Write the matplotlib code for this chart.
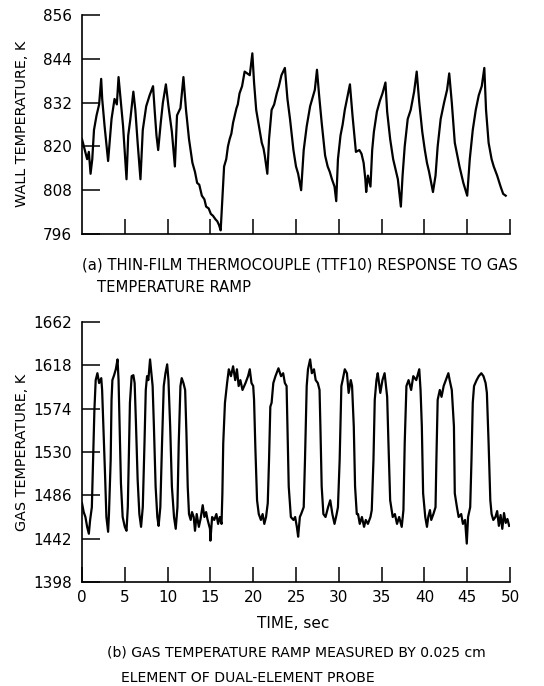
import matplotlib.pyplot as plt

# (a) wall temperature from thin-film thermocouple TTF10
wall_time = [
    0.0, 0.33, 0.6, 0.8, 1.0, 1.2, 1.4, 1.7, 2.0, 2.24, 2.36, 2.64, 3.05,
    3.45, 3.8, 4.07, 4.27, 4.5, 4.8, 5.2, 5.4, 5.65, 6.0, 6.23, 6.5, 6.83,
    7.1, 7.5, 7.9, 8.3, 8.5, 8.7, 8.9, 9.2, 9.45, 9.8, 10.1, 10.5, 10.85,
    11.1, 11.5, 11.85, 12.15, 12.5, 12.9, 13.2, 13.45, 13.7, 14.0, 14.3, 14.5,
    14.8, 15.05, 15.3, 15.6, 15.8, 16.0, 16.2, 16.35, 16.6, 16.85, 17.05,
    17.25, 17.45, 17.65, 18.05, 18.2, 18.4, 18.7, 19.0, 19.3, 19.6, 19.9,
    20.1, 20.35, 20.6, 21.0, 21.2, 21.35, 21.65, 21.85, 22.15, 22.45, 22.75,
    23.0, 23.3, 23.7, 24.0, 24.3, 24.7, 25.0, 25.25, 25.6, 25.9, 26.25,
    26.65, 26.9, 27.2, 27.45, 27.7, 28.0, 28.4, 28.7, 28.95, 29.2, 29.5,
    29.7, 29.9, 30.2, 30.45, 30.7, 31.05, 31.3, 31.6, 32.0, 32.4, 32.65,
    32.9, 33.1, 33.2, 33.4, 33.7, 33.9, 34.1, 34.45, 34.8, 35.1, 35.45,
    35.65, 36.0, 36.35, 36.6, 36.9, 37.25, 37.45, 37.7, 38.05, 38.4, 38.8,
    39.1, 39.4, 39.75, 40.05, 40.3, 40.55, 40.8, 41.0, 41.3, 41.55, 41.9,
    42.3, 42.65, 42.9, 43.2, 43.55, 43.8, 44.1, 44.35, 44.55, 45.0, 45.3,
    45.65, 46.0, 46.35, 46.7, 47.0, 47.2, 47.5, 47.85, 48.1, 48.5, 48.7,
    48.9, 49.2, 49.5,
]
wall_temp = [
    822, 819, 816.5, 818.5, 812.5, 816.5, 824.5, 828.5, 831.5, 838.5, 833,
    825.5, 816, 827.5, 833, 831.5, 839, 833, 825.5, 811, 823, 827.5, 835,
    830, 821, 811, 824.5, 831, 834, 836.5, 829.5, 823, 819, 826.5, 832, 837,
    831, 824, 814.5, 828.5, 830.5, 839, 830, 822, 815.5, 813, 810, 809.5,
    806.5, 805.5, 803.5, 803, 801.5, 801, 800, 799.5, 798.5, 797, 803.5,
    814.5, 816.5, 820, 822, 823.5, 826.5, 830.5, 831.5, 834.5, 836.5, 840.5,
    840, 839.5, 845.5, 837.5, 830, 826.5, 821, 819.5, 817.5, 812.5, 822, 830,
    831.5, 834.5, 836.5, 839.5, 841.5, 833, 827.5, 819, 814.5, 812.5, 808,
    819, 825.5, 831, 833, 835.5, 841, 834, 826.5, 817.5, 814.5, 813, 811,
    809, 805, 816.5, 823, 826, 830, 834, 837, 828.5, 818.5, 819, 818, 815.5,
    811, 807.5, 812, 809, 819, 824, 829.5, 832.5, 834.5, 837.5, 829.5, 822,
    816.5, 814, 811, 803.5, 812, 820, 827.5, 830, 835, 840.5, 832, 824,
    819, 815.5, 813, 810, 807.5, 812, 820, 827.5, 832, 835.5, 840, 832,
    821, 818, 814.5, 812, 810, 806.5, 816.5, 824.5, 830, 834, 836.5, 841.5,
    830, 821, 816.5, 814.5, 812, 810.5, 809, 807, 806.5,
]

# (b) gas temperature measured by the 0.025 cm element
gas_time = [
    0.0, 0.2, 0.4, 0.6, 0.8, 0.95, 1.15, 1.3, 1.45, 1.6, 1.8, 2.0, 2.25,
    2.35, 2.5, 2.7, 2.85, 3.05, 3.15, 3.35, 3.45, 3.55, 3.75, 3.95, 4.15,
    4.27, 4.4, 4.55, 4.75, 5.0, 5.2, 5.35, 5.5, 5.6, 5.8, 6.0, 6.15, 6.3,
    6.5, 6.7, 6.9, 7.1, 7.3, 7.45, 7.6, 7.75, 7.95, 8.1, 8.25, 8.4, 8.6,
    8.8, 8.95, 9.15, 9.35, 9.55, 9.75, 9.95, 10.1, 10.3, 10.5, 10.75, 10.95,
    11.15, 11.3, 11.5, 11.65, 11.85, 12.05, 12.2, 12.35, 12.5, 12.7, 12.85,
    13.05, 13.2, 13.4, 13.65, 13.85, 14.1, 14.3, 14.5, 14.65, 14.95, 15.0,
    15.2, 15.45, 15.7, 15.9, 16.1, 16.3, 16.4, 16.5, 16.7, 16.95, 17.15,
    17.4, 17.65, 17.9, 18.1, 18.3, 18.5, 18.75, 19.1, 19.4, 19.6, 19.8,
    20.0, 20.1, 20.25, 20.45, 20.65, 20.9, 21.1, 21.3, 21.5, 21.7, 21.85,
    22.0, 22.15, 22.35, 22.6, 22.95, 23.25, 23.5, 23.7, 23.9, 24.0, 24.15,
    24.4, 24.7, 24.9, 25.1, 25.25, 25.45, 25.6, 25.9, 26.05, 26.25, 26.4,
    26.65, 26.85, 27.1, 27.3, 27.55, 27.75, 27.85, 28.0, 28.2, 28.45, 28.75,
    29.0, 29.25, 29.5, 29.75, 29.9, 30.1, 30.3, 30.45, 30.7, 30.95, 31.15,
    31.4, 31.55, 31.75, 31.9, 32.1, 32.25, 32.45, 32.7, 32.95, 33.15, 33.4,
    33.7, 33.85, 34.05, 34.2, 34.4, 34.55, 34.85, 35.1, 35.35, 35.65, 35.8,
    36.0, 36.3, 36.55, 36.8, 37.05, 37.35, 37.55, 37.7, 37.9, 38.15, 38.45,
    38.7, 39.05, 39.4, 39.55, 39.7, 39.85, 40.1, 40.3, 40.45, 40.65, 40.8,
    41.05, 41.3, 41.4, 41.55, 41.8, 42.0, 42.25, 42.5, 42.8, 42.95, 43.2,
    43.45, 43.55, 43.8, 44.0, 44.3, 44.5, 44.75, 44.95, 45.1, 45.35, 45.5,
    45.65, 45.8, 46.1, 46.35, 46.65, 46.9, 47.15, 47.3, 47.5, 47.7, 47.85,
    48.05, 48.3, 48.5, 48.7, 48.9, 49.1, 49.3, 49.5, 49.7, 49.9,
]
gas_temp = [
    1478, 1469, 1464, 1454, 1447, 1461, 1474, 1522, 1573, 1603, 1610, 1600,
    1605, 1593, 1556, 1505, 1464, 1449, 1467, 1522, 1583, 1603, 1608, 1614,
    1624, 1603, 1556, 1498, 1464, 1454, 1450, 1474, 1539, 1580, 1607, 1608,
    1600, 1560, 1502, 1467, 1454, 1474, 1539, 1593, 1607, 1603, 1624, 1610,
    1597, 1556, 1495, 1464, 1455, 1474, 1539, 1597, 1610, 1619, 1603, 1556,
    1495, 1464, 1452, 1474, 1539, 1597, 1605, 1600, 1593, 1549, 1495, 1467,
    1461, 1469, 1464, 1450, 1467, 1454, 1462, 1476, 1464, 1469, 1462, 1452,
    1440, 1464, 1461, 1467, 1457, 1464, 1457, 1488, 1539, 1580, 1600, 1614,
    1607, 1617, 1603, 1614, 1597, 1603, 1593, 1600, 1607, 1614, 1600, 1597,
    1583, 1535, 1481, 1467, 1461, 1467, 1457, 1464, 1478, 1522, 1576, 1580,
    1600, 1607, 1615, 1607, 1610, 1600, 1597, 1556, 1495, 1464, 1461, 1464,
    1454, 1444, 1464, 1467, 1474, 1522, 1597, 1614, 1624, 1610, 1614, 1603,
    1600, 1593, 1556, 1495, 1467, 1464, 1474, 1481, 1467, 1457, 1467, 1474,
    1522, 1597, 1603, 1614, 1610, 1590, 1603, 1597, 1556, 1495, 1467, 1467,
    1457, 1464, 1454, 1461, 1457, 1464, 1471, 1522, 1583, 1603, 1610, 1590,
    1603, 1610, 1586, 1539, 1481, 1464, 1467, 1457, 1464, 1454, 1471, 1539,
    1597, 1603, 1593, 1607, 1603, 1614, 1593, 1556, 1488, 1464, 1454, 1464,
    1471, 1461, 1467, 1474, 1522, 1583, 1593, 1586, 1597, 1603, 1610, 1603,
    1593, 1556, 1488, 1474, 1464, 1467, 1457, 1461, 1437, 1464, 1474, 1522,
    1580, 1597, 1603, 1607, 1610, 1607, 1600, 1590, 1539, 1481, 1467, 1461,
    1464, 1470, 1455, 1466, 1452, 1468, 1458, 1462, 1455,
]

wall_ticks = [796, 808, 820, 832, 844, 856]
gas_ticks = [1398, 1442, 1486, 1530, 1574, 1618, 1662]
time_ticks = [0, 5, 10, 15, 20, 25, 30, 35, 40, 45, 50]

W, H = 544, 686
# narrow face is closer to the typewriter lettering of the scan
plt.rcParams["font.family"] = ["Liberation Sans Narrow", "DejaVu Sans"]
fig = plt.figure(figsize=(W / 100, H / 100), dpi=100)

def px_axes(x0, y0, x1, y1):
    # pixel box (left, top, right, bottom) -> figure axes
    return fig.add_axes([x0 / W, 1 - y1 / H, (x1 - x0) / W, (y1 - y0) / H])

ax1 = px_axes(82, 15, 510, 234)
ax2 = px_axes(82, 322, 510, 582)

for ax in (ax1, ax2):
    for s in ("top", "right"):
        ax.spines[s].set_visible(False)
    for s in ("left", "bottom"):
        ax.spines[s].set_linewidth(1.2)
    ax.set_xlim(0, 50)
    ax.tick_params(axis="y", direction="in", length=13, width=1.1,
                   labelsize=11, pad=7)
    ax.tick_params(axis="x", direction="in", length=11, width=1.1,
                   labelsize=11, pad=6)

ax1.plot(wall_time, wall_temp, color="black", lw=1.6)
ax1.set_ylim(796, 856)
ax1.set_yticks(wall_ticks)
ax1.set_xticks(time_ticks[1:])
ax1.set_xticklabels([])

ax2.plot(gas_time, gas_temp, color="black", lw=1.6)
ax2.set_ylim(1398, 1662)
ax2.set_yticks(gas_ticks)
ax2.set_xticks(time_ticks)

def ftext(x, y, s, size=11, **kw):
    fig.text(x / W, 1 - y / H, s, fontsize=size, **kw)

ftext(22, 124, "WALL TEMPERATURE, K", size=10.4, rotation=90,
      ha="center", va="center")
ftext(22, 452, "GAS TEMPERATURE, K", size=10.4, rotation=90,
      ha="center", va="center")
ftext(82, 265, "(a) THIN-FILM THERMOCOUPLE (TTF10) RESPONSE TO GAS",
      size=10.6, ha="left", va="center")
ftext(97, 287, "TEMPERATURE RAMP", size=10.6, ha="left", va="center")
ftext(293, 623, "TIME, sec", ha="center", va="center")
ftext(107, 652, "(b) GAS TEMPERATURE RAMP MEASURED BY 0.025 cm",
      size=10.1, ha="left", va="center")
ftext(121, 678, "ELEMENT OF DUAL-ELEMENT PROBE", size=10.1,
      ha="left", va="center")

fig.savefig("out.png", dpi=100)
